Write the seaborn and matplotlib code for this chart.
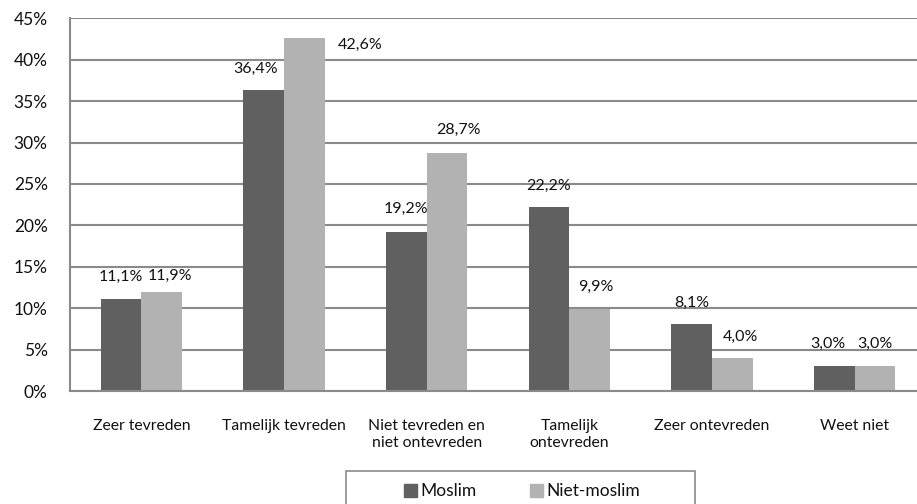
import matplotlib
matplotlib.use("Agg")
import matplotlib.pyplot as plt
import seaborn as sns
import pandas as pd
from matplotlib.transforms import offset_copy
from matplotlib.patches import Rectangle

categories = ["Zeer tevreden", "Tamelijk tevreden", "Niet tevreden en\nniet ontevreden",
              "Tamelijk\nontevreden", "Zeer ontevreden", "Weet niet"]
series_names = ["Moslim", "Niet-moslim"]
moslim = [11.1, 36.4, 19.2, 22.2, 8.1, 3.0]
niet_moslim = [11.9, 42.6, 28.7, 9.9, 4.0, 3.0]
y_ticks = [0, 5, 10, 15, 20, 25, 30, 35, 40, 45]

# label offsets in pixels (dx, dy above bar top), per series
label_offsets = [
    [(0, 22), (-8, 21), (0, 23), (0, 21), (0, 21), (-7, 22)],
    [(8, 17), (56, -7), (12, 23), (6, 22), (8, 21), (0, 22)],
]

df = pd.DataFrame({
    "cat": categories * 2,
    "val": moslim + niet_moslim,
    "series": [series_names[0]] * 6 + [series_names[1]] * 6,
})

sns.set_theme(style="white")
plt.rcParams["font.family"] = ["Lato", "DejaVu Sans"]

W, H, DPI = 917, 504, 100
fig = plt.figure(figsize=(W / DPI, H / DPI), dpi=DPI)
ax = fig.add_axes([70 / W, (H - 391) / H, 856 / W, 372.7 / H])

palette = ["#606060", "#b2b2b2"]
sns.barplot(data=df, x="cat", y="val", hue="series", palette=palette,
            width=0.568, gap=0, saturation=1, ax=ax, legend=True,
            linewidth=0, edgecolor="none")

txt = "#111111"
ax.set_ylim(0, 45)
ax.set_xlim(-0.5, 5.5)
ax.set_yticks(y_ticks)
ax.set_yticklabels([f"{t}%" for t in y_ticks], fontsize=12.5, color=txt)
ax.tick_params(axis="y", length=0, pad=16)
ax.tick_params(axis="x", length=0, pad=20)
ax.set_xticks(range(len(categories)))
ax.set_xticklabels(categories, fontsize=11.3, color=txt, linespacing=1.3)
ax.set_xlabel("")
ax.set_ylabel("")
ax.yaxis.grid(True, color="#8a8a8a", linewidth=1.5)
ax.set_axisbelow(True)
for s in ["top", "right"]:
    ax.spines[s].set_visible(False)
for s in ["left", "bottom"]:
    ax.spines[s].set_color("#8a8a8a")
    ax.spines[s].set_linewidth(1.5)

for si, cont in enumerate(ax.containers):
    vals = [moslim, niet_moslim][si]
    for ci, bar in enumerate(cont):
        dx, dy = label_offsets[si][ci]
        xc = bar.get_x() + bar.get_width() / 2
        tr = offset_copy(ax.transData, fig=fig, x=dx * 72 / DPI, y=dy * 72 / DPI, units="points")
        ax.text(xc, bar.get_height(), f"{vals[ci]:.1f}%".replace(".", ","),
                transform=tr, ha="center", va="center", fontsize=11.5, color=txt)

ax.get_legend().remove()
handles = [plt.Rectangle((0, 0), 1, 1, color=c) for c in palette]
leg = fig.legend(handles, series_names, loc="center",
                 bbox_to_anchor=(522 / W, 1 - 491.5 / H),
                 ncol=2, frameon=False,
                 fontsize=12.5, handlelength=0.75, handleheight=0.75, handletextpad=0.2,
                 borderpad=0, columnspacing=3.1)
for t in leg.get_texts():
    t.set_color(txt)
fig.patches.append(Rectangle((346 / W, -0.05), 349 / W, (H - 470.5) / H + 0.05,
                             transform=fig.transFigure, fill=False,
                             edgecolor="#8a8a8a", linewidth=1.2))

fig.savefig("out.png", dpi=DPI)
